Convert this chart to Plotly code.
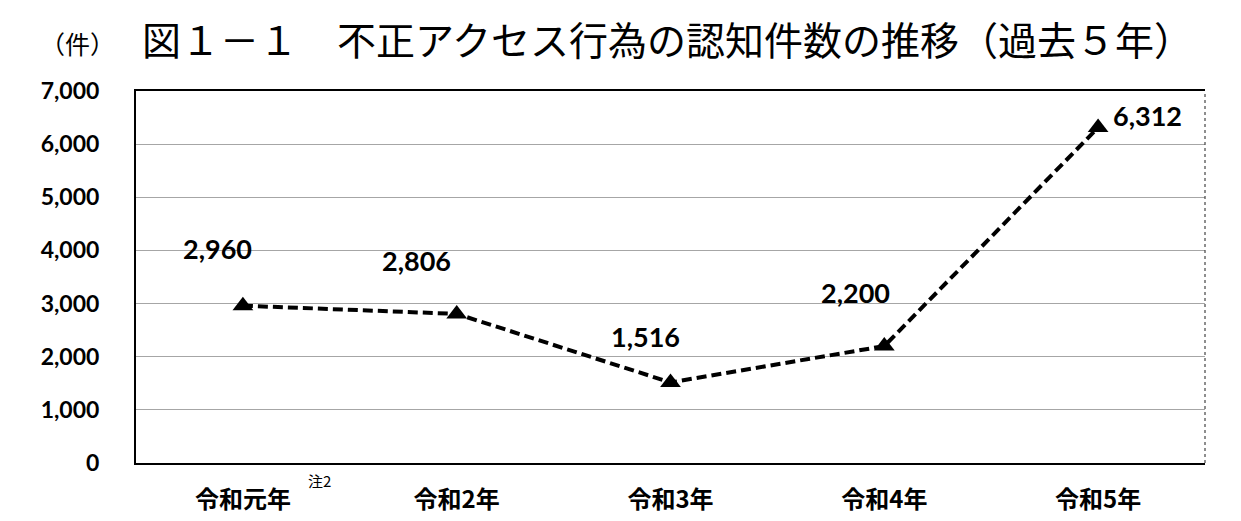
import plotly.graph_objects as go

categories = ["令和元年", "令和2年", "令和3年", "令和4年", "令和5年"]
values = [2960, 2806, 1516, 2200, 6312]
value_labels = ["2,960", "2,806", "1,516", "2,200", "6,312"]
label_offsets = [(-25, 57), (-40, 53), (-25, 46), (-29, 54), (49, 12)]
y_ticks = [0, 1000, 2000, 3000, 4000, 5000, 6000, 7000]
y_tick_text = ["0", "1,000", "2,000", "3,000", "4,000", "5,000", "6,000", "7,000"]

title_text = "図１－１　不正アクセス行為の認知件数の推移（過去５年）"
unit_text = "（件）"

JP = "Noto Sans CJK JP"
NUM = "Lato"

fig = go.Figure()
fig.add_trace(go.Scatter(
    x=categories, y=values, mode="lines+markers",
    line=dict(color="black", width=4, dash="10px,5px"),
    marker=dict(symbol="triangle-up", size=18, color="black"),
    hoverinfo="skip", showlegend=False,
))

annotations = []
for c, v, t, (dx, dy) in zip(categories, values, value_labels, label_offsets):
    annotations.append(dict(
        x=c, y=v, xref="x", yref="y", text=t, showarrow=False,
        xshift=dx, yshift=dy, font=dict(family=NUM, size=27, color="black", weight="bold"),
    ))

annotations.append(dict(
    x=0.5, y=1, xref="paper", yref="paper", text=title_text, showarrow=False,
    xshift=-3, yshift=53, yanchor="middle", xanchor="center",
    font=dict(family=JP, size=39, color="black"),
))
annotations.append(dict(
    x=0, y=1, xref="paper", yref="paper", text=unit_text, showarrow=False,
    xshift=-59, yshift=48, yanchor="middle", xanchor="center",
    font=dict(family=JP, size=25, color="black"),
))
annotations.append(dict(
    x=categories[0], y=0, xref="x", yref="paper", text="注2", showarrow=False,
    xshift=77, yshift=-17, yanchor="middle", xanchor="center",
    font=dict(family=JP, size=15, color="black"),
))

fig.update_layout(
    width=1241, height=521,
    margin=dict(l=136, r=36, t=91, b=58, autoexpand=False),
    paper_bgcolor="white", plot_bgcolor="white",
    annotations=annotations,
    shapes=[dict(type="line", xref="paper", yref="paper", x0=1, x1=1, y0=0, y1=1,
                 line=dict(color="#444", width=1.2, dash="dot"))],
)
fig.update_xaxes(
    type="category", range=[-0.5, 4.5], automargin=False,
    showline=True, mirror=True, linecolor="black", linewidth=2,
    showgrid=False, ticks="", ticklabelstandoff=14,
    tickfont=dict(family=JP, size=24, color="black", weight="bold"),
)
fig.update_yaxes(
    range=[0, 7000], tickvals=y_ticks, ticktext=y_tick_text, automargin=False,
    showline=True, linecolor="black", linewidth=2,
    showgrid=True, gridcolor="#a6a6a6", gridwidth=1.2, zeroline=False,
    ticks="", ticklabelstandoff=30,
    tickfont=dict(family=NUM, size=23, color="black", weight="bold"),
)

fig.write_html(
    "out.html",
    config={"displayModeBar": False},
    post_script="document.body.style.margin='0';document.body.style.overflow='hidden';",
)
